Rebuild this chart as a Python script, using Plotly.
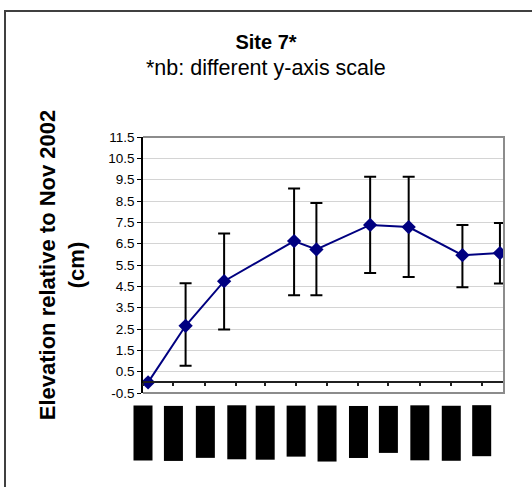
import plotly.graph_objects as go

# ---- data ----
dates = ["2002-11-06", "2002-12-13", "2003-01-20", "2003-03-30", "2003-04-21",
         "2003-06-13", "2003-07-21", "2003-09-12", "2003-10-19"]
elevation = [0.0, 2.65, 4.74, 6.62, 6.23, 7.38, 7.28, 5.96, 6.06]
err_upper = [0.0, 4.65, 6.98, 9.09, 8.41, 9.64, 9.64, 7.38, 7.47]   # top of error bar
err_lower = [0.0, 0.78, 2.48, 4.08, 4.08, 5.12, 4.94, 4.46, 4.63]   # bottom of error bar

tick_dates = ["2002-11-01", "2002-12-01", "2003-01-01", "2003-02-01", "2003-03-01",
              "2003-04-01", "2003-05-01", "2003-06-01", "2003-07-01", "2003-08-01",
              "2003-09-01", "2003-10-01"]
tick_labels = ["Nov-02", "Dec-02", "Jan-03", "Feb-03", "Mar-03", "Apr-03",
               "May-03", "Jun-03", "Jul-03", "Aug-03", "Sep-03", "Oct-03"]
y_ticks = [-0.5 + i for i in range(13)]

plus = [max(u - v, 0) for u, v in zip(err_upper, elevation)]
minus = [max(v - l, 0) for v, l in zip(elevation, err_lower)]

FONT = "Liberation Sans, Arial"

fig = go.Figure()
fig.add_trace(go.Scatter(
    x=dates, y=elevation, mode="lines+markers",
    line=dict(color="#000080", width=2),
    marker=dict(symbol="diamond", size=11, color="#000080"),
    error_y=dict(type="data", symmetric=False, array=plus, arrayminus=minus,
                 color="black", thickness=2, width=6),
    showlegend=False,
))

# redacted x tick labels (black boxes)
for d, t in zip(tick_dates, tick_labels):
    fig.add_annotation(x=d, y=0, xref="x", yref="paper", text=t,
                       textangle=-90, showarrow=False, yanchor="top",
                       yshift=-12, bgcolor="black", borderpad=1,
                       height=16,
                       font=dict(family=FONT, size=16, color="black"))

# subtitle (centred on the page, like the title)
fig.add_annotation(x=(266 - 143) / 361, xref="paper", xanchor="center",
                   y=(393 - 68) / 256, yref="paper", yanchor="middle",
                   text="*nb: different y-axis scale", showarrow=False,
                   font=dict(family=FONT, size=21.5, color="black"))

fig.update_layout(
    width=532, height=487,
    margin=dict(l=143, r=28, t=137, b=94),
    paper_bgcolor="white", plot_bgcolor="white",
    font=dict(family=FONT, color="black"),
    title=dict(text="<b>Site 7*</b>",
               x=0.5, xanchor="center", xref="container",
               y=1 - 42 / 487, yanchor="middle", yref="container",
               font=dict(size=20, color="black")),
    xaxis=dict(type="date", range=["2002-11-01", "2003-10-23"],
               tick0="2002-11-01", dtick="M1",
               showgrid=False, zeroline=False,
               anchor="free", position=0.5 / 12,
               showline=True, linecolor="#202020", linewidth=1.5,
               ticks="outside", ticklen=3, tickcolor="#202020", tickwidth=1.5,
               showticklabels=False),
    yaxis=dict(range=[-0.5, 11.5], tickvals=y_ticks,
               ticktext=[f"{v:.1f}" for v in y_ticks],
               showgrid=True, gridcolor="#d4d4d4", gridwidth=1,
               zeroline=False,
               showline=True, linecolor="black", linewidth=1.5,
               ticks="outside", ticklen=4, tickcolor="black",
               tickfont=dict(size=13.5, color="black"),
               title=dict(text="<b>Elevation relative to Nov 2002<br>(cm)</b>",
                          font=dict(size=22, color="black"), standoff=18)),
    shapes=[
        # plot area border (bottom, right, top)
        dict(type="path", xref="paper", yref="paper",
             path="M 0,0 L 1,0 L 1,1 L 0,1",
             line=dict(color="#8c8c8c", width=2)),
        # outer chart frame
        dict(type="rect", xref="paper", yref="paper",
             x0=(5 - 143) / 361, x1=1.2, y0=-0.6, y1=(393 - 11) / 256,
             line=dict(color="#404040", width=2)),
    ],
)

fig.write_html("out.html", config={"displayModeBar": False},
               post_script="document.body.style.margin='0';")
